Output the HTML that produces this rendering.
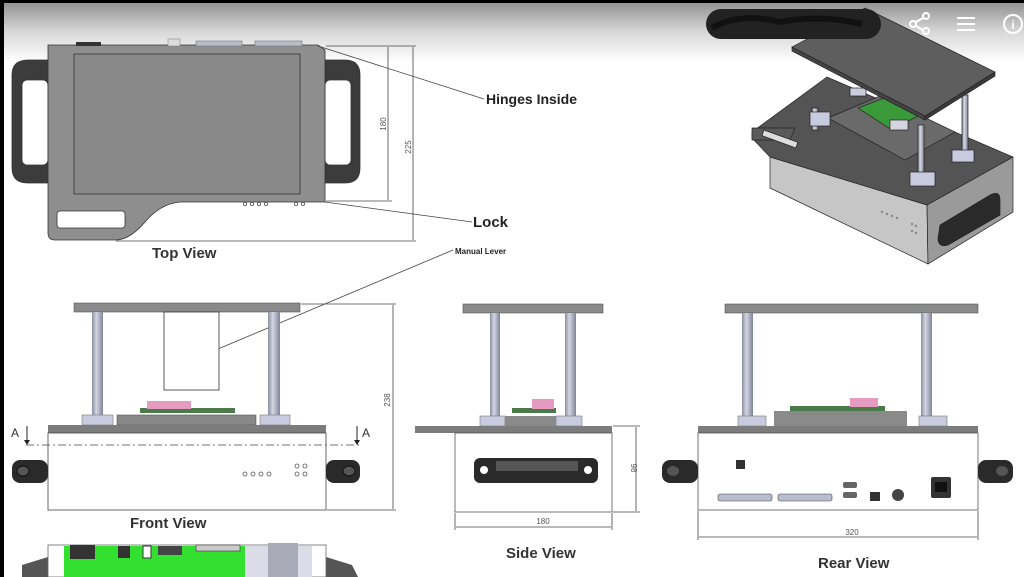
<!DOCTYPE html>
<html><head><meta charset="utf-8"><style>
html,body{margin:0;padding:0;background:#fff}
svg{display:block}
text{font-family:"Liberation Sans",Arial,sans-serif}
</style></head><body>
<svg width="1024" height="577" viewBox="0 0 1024 577" xmlns="http://www.w3.org/2000/svg">
<defs>
<linearGradient id="top" x1="0" y1="0" x2="0" y2="1">
<stop offset="0" stop-color="#8c8c8c"/><stop offset="0.5" stop-color="#d6d6d6"/><stop offset="1" stop-color="#fff"/>
</linearGradient>
<linearGradient id="post" x1="0" y1="0" x2="1" y2="0">
<stop offset="0" stop-color="#8a8ea0"/><stop offset="0.4" stop-color="#d4d6e2"/><stop offset="1" stop-color="#80849a"/>
</linearGradient>
</defs>
<rect width="1024" height="577" fill="#fff"/>
<rect x="0" y="0" width="1024" height="62" fill="url(#top)"/>
<rect x="0" y="0" width="1024" height="3" fill="#000"/>
<rect x="0" y="0" width="4" height="577" fill="#000"/>

<!-- TOP VIEW -->
<g stroke="#333" stroke-width="0.8">
<path d="M12,75 Q12,60 28,60 L48,60 L48,183 L28,183 Q12,183 12,168 Z" fill="#3c3c3c"/>
<rect x="22" y="80" width="26" height="85" rx="5" fill="#fff"/>
<path d="M325,60 L345,60 Q360,60 360,75 L360,168 Q360,183 345,183 L325,183 Z" fill="#3c3c3c"/>
<rect x="325" y="80" width="26" height="85" rx="5" fill="#fff"/>
<path d="M48,45 L318,45 L325,50 L325,202 L180,202 Q160,204 145,222 Q130,240 115,240 L55,240 Q48,240 48,233 Z" fill="#8e8e8e"/>
<rect x="74" y="54" width="226" height="140" fill="#898989"/>
<rect x="57" y="211" width="68" height="17" rx="3" fill="#fff"/>
</g>
<rect x="76" y="42" width="25" height="4" fill="#333"/>
<rect x="168" y="39" width="12" height="7" fill="#ddd" stroke="#888" stroke-width="0.6"/>
<rect x="196" y="41" width="46" height="5" fill="#b8bcc8" stroke="#777" stroke-width="0.6"/>
<rect x="255" y="41" width="47" height="5" fill="#b8bcc8" stroke="#777" stroke-width="0.6"/>
<g fill="none" stroke="#555" stroke-width="0.8">
<circle cx="245" cy="204" r="1.6"/><circle cx="252" cy="204" r="1.6"/><circle cx="259" cy="204" r="1.6"/><circle cx="266" cy="204" r="1.6"/>
<circle cx="296" cy="204" r="1.6"/><circle cx="303" cy="204" r="1.6"/>
</g>
<g stroke="#444" stroke-width="0.8" fill="none">
<line x1="326" y1="46" x2="416" y2="46"/><line x1="326" y1="201" x2="392" y2="201"/><line x1="116" y1="241" x2="416" y2="241"/>
<line x1="388" y1="47" x2="388" y2="200"/><line x1="413" y1="47" x2="413" y2="240"/>
<line x1="318" y1="46" x2="484" y2="99"/><line x1="325" y1="202" x2="472" y2="222"/>
<line x1="218" y1="349" x2="453" y2="250"/>
</g>
<text x="386" y="124" font-size="8" fill="#555" transform="rotate(-90 386 124)" text-anchor="middle">180</text>
<text x="411" y="147" font-size="8" fill="#555" transform="rotate(-90 411 147)" text-anchor="middle">225</text>
<text x="486" y="104" font-size="14" font-weight="bold" fill="#222">Hinges Inside</text>
<text x="473" y="227" font-size="15" font-weight="bold" fill="#222">Lock</text>
<text x="152" y="258" font-size="15" font-weight="bold" fill="#333">Top View</text>
<text x="455" y="254" font-size="8" font-weight="bold" fill="#222">Manual Lever</text>

<!-- FRONT VIEW -->
<rect x="74" y="303" width="226" height="9" fill="#8a8a8a" stroke="#555" stroke-width="0.6"/>
<rect x="92" y="312" width="11" height="104" fill="url(#post)"/>
<rect x="268" y="312" width="12" height="104" fill="url(#post)"/>
<rect x="164" y="312" width="55" height="78" fill="#fff" stroke="#333" stroke-width="0.8"/>
<rect x="82" y="415" width="31" height="10" fill="#c8cbe0" stroke="#777" stroke-width="0.6"/>
<rect x="260" y="415" width="30" height="10" fill="#c8cbe0" stroke="#777" stroke-width="0.6"/>
<rect x="117" y="415" width="139" height="10" fill="#888" stroke="#555" stroke-width="0.6"/>
<rect x="140" y="408" width="95" height="5" fill="#4a7a4a"/>
<rect x="147" y="401" width="44" height="8" fill="#e59bc0"/>
<rect x="48" y="425" width="278" height="8" fill="#7c7c7c"/>
<rect x="48" y="433" width="278" height="77" fill="#fff" stroke="#444" stroke-width="0.8"/>
<line x1="26" y1="445" x2="360" y2="445" stroke="#444" stroke-width="0.8" stroke-dasharray="8,3,2,3"/>
<text x="11" y="437" font-size="12" fill="#333">A</text><line x1="27" y1="426" x2="27" y2="442" stroke="#222"/>
<path d="M24,440 L27,445 L30,440 Z" fill="#222"/>
<text x="362" y="437" font-size="12" fill="#333">A</text><line x1="357" y1="426" x2="357" y2="442" stroke="#222"/>
<path d="M354,440 L357,445 L360,440 Z" fill="#222"/>
<rect x="12" y="460" width="36" height="23" rx="8" fill="#2a2a2a"/><ellipse cx="23" cy="471" rx="6" ry="5" fill="#555" stroke="#111"/>
<rect x="326" y="460" width="34" height="23" rx="8" fill="#2a2a2a"/><ellipse cx="349" cy="471" rx="6" ry="5" fill="#555" stroke="#111"/>
<g fill="none" stroke="#555" stroke-width="0.8">
<circle cx="245" cy="474" r="2"/><circle cx="253" cy="474" r="2"/><circle cx="261" cy="474" r="2"/><circle cx="269" cy="474" r="2"/>
<circle cx="297" cy="466" r="2"/><circle cx="305" cy="466" r="2"/><circle cx="297" cy="474" r="2"/><circle cx="305" cy="474" r="2"/>
</g>
<g stroke="#444" stroke-width="0.8"><line x1="301" y1="304" x2="396" y2="304"/><line x1="327" y1="510" x2="396" y2="510"/><line x1="393" y1="305" x2="393" y2="509"/></g>
<text x="390" y="400" font-size="8" fill="#555" transform="rotate(-90 390 400)" text-anchor="middle">238</text>
<text x="130" y="528" font-size="15" font-weight="bold" fill="#333">Front View</text>

<!-- bottom partial -->
<path d="M22,577 L22,565 L48,557 L48,577 Z" fill="#555"/>
<path d="M326,557 L352,565 L358,577 L326,577 Z" fill="#555"/>
<rect x="48" y="545" width="278" height="32" fill="#fff" stroke="#666" stroke-width="0.8"/>
<rect x="64" y="546" width="181" height="31" fill="#33e030"/>
<rect x="245" y="546" width="67" height="31" fill="#dcdce8"/>
<rect x="268" y="543" width="30" height="34" fill="#a8aab8"/>
<rect x="70" y="545" width="25" height="14" fill="#333"/>
<rect x="118" y="546" width="12" height="12" fill="#333"/>
<rect x="143" y="546" width="8" height="12" fill="#fff" stroke="#333"/>
<rect x="158" y="546" width="24" height="9" fill="#444"/>
<rect x="196" y="545" width="44" height="6" fill="#ccc" stroke="#333" stroke-width="0.6"/>

<!-- SIDE VIEW -->
<rect x="463" y="304" width="140" height="9" fill="#8a8a8a" stroke="#555" stroke-width="0.6"/>
<rect x="490" y="313" width="10" height="103" fill="url(#post)"/>
<rect x="565" y="313" width="11" height="103" fill="url(#post)"/>
<rect x="480" y="416" width="25" height="10" fill="#c8cbe0" stroke="#777" stroke-width="0.6"/>
<rect x="556" y="416" width="26" height="10" fill="#c8cbe0" stroke="#777" stroke-width="0.6"/>
<rect x="505" y="416" width="51" height="10" fill="#8a8a8a"/>
<rect x="512" y="408" width="44" height="5" fill="#4a7a4a"/>
<rect x="532" y="399" width="22" height="10" fill="#e59bc0"/>
<rect x="415" y="426" width="197" height="7" fill="#7c7c7c"/>
<rect x="455" y="433" width="157" height="79" fill="#fff" stroke="#555" stroke-width="0.8"/>
<rect x="474" y="458" width="124" height="25" rx="6" fill="#2a2a2a"/>
<rect x="496" y="461" width="82" height="10" fill="#555"/>
<circle cx="484" cy="470" r="4" fill="#fff"/><circle cx="588" cy="470" r="4" fill="#fff"/>
<g stroke="#444" stroke-width="0.8"><line x1="613" y1="426" x2="640" y2="426"/><line x1="613" y1="512" x2="640" y2="512"/><line x1="636" y1="427" x2="636" y2="511"/>
<line x1="455" y1="513" x2="455" y2="530"/><line x1="612" y1="513" x2="612" y2="530"/><line x1="456" y1="527" x2="611" y2="527"/></g>
<text x="631" y="468" font-size="8" fill="#555" transform="rotate(90 631 468)" text-anchor="middle">98</text>
<text x="543" y="524" font-size="8" fill="#555" text-anchor="middle">180</text>
<text x="506" y="558" font-size="15" font-weight="bold" fill="#333">Side View</text>

<!-- REAR VIEW -->
<rect x="725" y="304" width="253" height="9" fill="#8a8a8a" stroke="#555" stroke-width="0.6"/>
<rect x="742" y="313" width="11" height="103" fill="url(#post)"/>
<rect x="921" y="313" width="11" height="103" fill="url(#post)"/>
<rect x="738" y="416" width="28" height="10" fill="#c8cbe0" stroke="#777" stroke-width="0.6"/>
<rect x="919" y="416" width="28" height="10" fill="#c8cbe0" stroke="#777" stroke-width="0.6"/>
<rect x="774" y="411" width="133" height="15" fill="#8a8a8a"/>
<rect x="790" y="406" width="95" height="5" fill="#4a7a4a"/>
<rect x="850" y="398" width="28" height="9" fill="#e59bc0"/>
<rect x="698" y="426" width="280" height="7" fill="#7c7c7c"/>
<rect x="698" y="433" width="280" height="77" fill="#fff" stroke="#555" stroke-width="0.8"/>
<rect x="662" y="460" width="36" height="23" rx="8" fill="#2a2a2a"/><ellipse cx="673" cy="471" rx="6" ry="5" fill="#555"/>
<rect x="978" y="460" width="35" height="23" rx="8" fill="#2a2a2a"/><ellipse cx="1002" cy="471" rx="6" ry="5" fill="#555"/>
<rect x="736" y="460" width="9" height="9" fill="#333"/>
<rect x="718" y="494" width="54" height="7" rx="2" fill="#b8bcd0" stroke="#444" stroke-width="0.6"/>
<rect x="778" y="494" width="54" height="7" rx="2" fill="#b8bcd0" stroke="#444" stroke-width="0.6"/>
<rect x="843" y="482" width="14" height="6" rx="2" fill="#666"/>
<rect x="843" y="492" width="14" height="6" rx="2" fill="#666"/>
<rect x="870" y="492" width="10" height="9" fill="#333"/>
<circle cx="898" cy="495" r="6" fill="#444"/>
<rect x="931" y="477" width="20" height="21" rx="2" fill="#333"/><rect x="935" y="482" width="12" height="10" fill="#111"/>
<g stroke="#444" stroke-width="0.8"><line x1="698" y1="511" x2="698" y2="540"/><line x1="978" y1="511" x2="978" y2="540"/><line x1="699" y1="537" x2="977" y2="537"/></g>
<text x="852" y="535" font-size="8" fill="#555" text-anchor="middle">320</text>
<text x="818" y="568" font-size="15" font-weight="bold" fill="#333">Rear View</text>

<!-- 3D VIEW -->
<g stroke="#222" stroke-width="0.7">
<polygon points="770,157 927,205 928,264 770,188" fill="#c6c6c6"/>
<polygon points="927,205 1013,157 1013,212 928,264" fill="#9a9a9a"/>
<polygon points="752,132 827,77 1013,157 927,205 770,157 752,138" fill="#545454"/>
<path d="M752,128 L795,128 L790,140 L752,140 Z" fill="#5a5a5a"/>
<rect x="764" y="130" width="36" height="6" fill="#ddd" transform="rotate(20 764 130)"/>
<polygon points="828,118 880,96 955,132 905,160" fill="#6a6a6a"/>
<polygon points="858,108 892,95 925,112 892,130" fill="#3a9a3a"/>
<rect x="890" y="120" width="18" height="10" fill="#d5d5df"/>
<rect x="812" y="108" width="6" height="22" fill="url(#post)"/>
<rect x="918" y="125" width="6" height="50" fill="url(#post)"/>
<rect x="962" y="95" width="6" height="60" fill="url(#post)"/>
<rect x="850" y="88" width="16" height="8" fill="#ccd"/>
<rect x="810" y="112" width="20" height="14" fill="#c8cbe0"/>
<rect x="910" y="172" width="25" height="14" fill="#c8cbe0"/>
<rect x="952" y="150" width="22" height="12" fill="#c8cbe0"/>
<polygon points="792,47 865,8 995,72 925,116" fill="#5e5e5e"/>
<polygon points="792,47 925,116 925,120 792,51" fill="#444"/>
<polygon points="925,116 995,72 995,76 925,120" fill="#3a3a3a"/>
<path d="M940,225 L990,195 Q1000,190 1000,200 L1000,215 L948,245 Q938,248 938,238 Z" fill="#2a2a2a"/>
</g>
<g fill="#888"><circle cx="882" cy="212" r="1.2"/><circle cx="887" cy="214" r="1.2"/><circle cx="892" cy="216" r="1.2"/><circle cx="897" cy="218" r="1.2"/>
<circle cx="912" cy="224" r="1.2"/><circle cx="916" cy="226" r="1.2"/><circle cx="912" cy="231" r="1.2"/><circle cx="916" cy="233" r="1.2"/></g>

<!-- overlay bar -->
<rect x="706" y="9" width="175" height="30" rx="15" fill="#222"/>
<path d="M712,28 Q740,12 780,22 Q820,14 862,24" stroke="#111" stroke-width="6" fill="none"/>
<g stroke="#fff" stroke-width="2" fill="none">
<circle cx="926" cy="16" r="3"/><circle cx="913" cy="24" r="3"/><circle cx="926" cy="31" r="3"/>
<line x1="916" y1="22" x2="923" y2="18"/><line x1="916" y1="26" x2="923" y2="30"/>
<line x1="957" y1="18" x2="975" y2="18"/><line x1="957" y1="24" x2="975" y2="24"/><line x1="957" y1="30" x2="975" y2="30"/>
<circle cx="1013" cy="24" r="9"/>
</g>
<text x="1013" y="29" font-size="12" font-weight="bold" fill="#fff" text-anchor="middle">i</text>
</svg>
</body></html>
